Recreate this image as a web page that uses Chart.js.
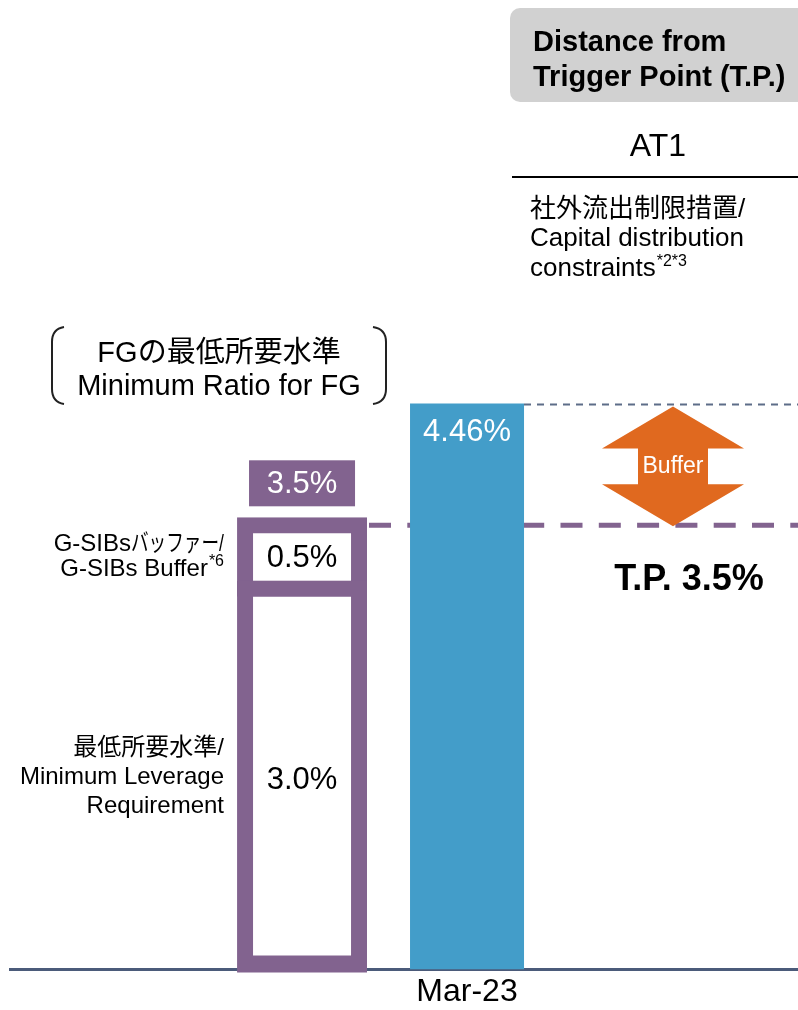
<!DOCTYPE html>
<html><head><meta charset="utf-8">
<script src="https://cdn.jsdelivr.net/npm/chart.js@4"></script>
<style>html,body{margin:0;padding:0;background:#fff}#wrap{width:798px;height:1010px}</style>
</head><body><div id="wrap"><canvas id="c" width="798" height="1010"></canvas></div>
<script>
// ---- data ----
const categories = ['Minimum Ratio for FG', 'Mar-23'];
const xPositions = [0, 1];
const tickLabels = ['Mar-23'];
const minLeverage = [3.0];   // 最低所要水準 / Minimum Leverage Requirement
const gsibBuffer = [0.5];    // G-SIBsバッファー / G-SIBs Buffer
const at1Ratio = [4.46];     // AT1 leverage ratio, Mar-23
const triggerPoint = [3.5];  // T.P.

const FONT = '"Liberation Sans", Arial, "Noto Sans CJK JP", sans-serif';
const PURPLE = '#82638f';
const BLUE = '#439dc9';
const ORANGE = '#e0691f';

function fmt(v, d) { return v.toFixed(d) + '%'; }
function txt(ctx, s, x, y, size, o = {}) {
  ctx.save();
  ctx.font = (o.bold ? 'bold ' : '') + size + 'px ' + FONT;
  ctx.fillStyle = o.color || '#000';
  ctx.textAlign = o.align || 'left';
  ctx.textBaseline = o.baseline || 'alphabetic';
  let w = ctx.measureText(s).width;
  if (o.fitW && w > o.fitW) {
    const k = o.fitW / w;
    ctx.translate(x, y); ctx.scale(k, 1); ctx.fillText(s, 0, 0);
    w = o.fitW;
  } else {
    ctx.fillText(s, x, y);
  }
  ctx.restore();
  return w;
}
function measure(ctx, s, size, bold) {
  ctx.font = (bold ? 'bold ' : '') + size + 'px ' + FONT;
  return ctx.measureText(s).width;
}

const deco = {
  id: 'deco',
  beforeDatasetsDraw(chart) {
    const ctx = chart.ctx, y = chart.scales.y;
    ctx.save();
    const yt = y.getPixelForValue(triggerPoint[0]);
    ctx.strokeStyle = PURPLE; ctx.lineWidth = 5; ctx.setLineDash([22, 16.3]);
    ctx.beginPath(); ctx.moveTo(369, yt); ctx.lineTo(798, yt); ctx.stroke();
    const ya = y.getPixelForValue(at1Ratio[0]);
    ctx.strokeStyle = '#5d6d88'; ctx.lineWidth = 2; ctx.setLineDash([7, 6]);
    ctx.beginPath(); ctx.moveTo(524, ya + 1); ctx.lineTo(798, ya + 1); ctx.stroke();
    ctx.restore();
  },
  afterDatasetsDraw(chart) {
    const ctx = chart.ctx, y = chart.scales.y;
    ctx.save();
    // header box
    ctx.fillStyle = '#d1d1d1';
    ctx.beginPath(); ctx.roundRect(510, 8, 310, 94, 10); ctx.fill();
    txt(ctx, 'Distance from', 533, 51, 29, {bold: true});
    txt(ctx, 'Trigger Point (T.P.)', 533, 86, 29, {bold: true});
    txt(ctx, 'AT1', 658, 156, 32, {align: 'center'});
    ctx.fillStyle = '#000'; ctx.fillRect(512, 176, 290, 2);
    txt(ctx, '社外流出制限措置/', 530, 217, 26);
    txt(ctx, 'Capital distribution', 530, 246, 26);
    const wc = txt(ctx, 'constraints', 530, 276, 26);
    txt(ctx, '*2*3', 530 + wc + 1, 266, 16);

    // bracket title
    txt(ctx, 'FGの最低所要水準', 219, 362, 29, {align: 'center'});
    txt(ctx, 'Minimum Ratio for FG', 219, 395, 29, {align: 'center'});
    ctx.strokeStyle = '#222'; ctx.lineWidth = 2;
    ctx.beginPath(); ctx.moveTo(64, 327); ctx.quadraticCurveTo(52, 329, 52, 342);
    ctx.lineTo(52, 389); ctx.quadraticCurveTo(52, 402, 64, 404); ctx.stroke();
    ctx.beginPath(); ctx.moveTo(373, 327); ctx.quadraticCurveTo(386, 329, 386, 342);
    ctx.lineTo(386, 389); ctx.quadraticCurveTo(386, 402, 373, 404); ctx.stroke();

    // left labels
    const R = 224;
    const kana = 'バッファー/';
    const wk = Math.min(measure(ctx, kana, 24), 93);
    txt(ctx, kana, R - wk, 551, 24, {fitW: 93});
    txt(ctx, 'G-SIBs', R - wk, 551, 24, {align: 'right'});
    const ws = measure(ctx, '*6', 16);
    txt(ctx, 'G-SIBs Buffer', R - ws - 1, 576, 24, {align: 'right'});
    txt(ctx, '*6', R - ws, 566, 16);
    txt(ctx, '最低所要水準/', R, 755, 24, {align: 'right'});
    txt(ctx, 'Minimum Leverage', R, 784, 24, {align: 'right'});
    txt(ctx, 'Requirement', R, 813, 24, {align: 'right'});

    // value labels from bar elements
    const mMin = chart.getDatasetMeta(0).data[0];
    const mBuf = chart.getDatasetMeta(1).data[0];
    const mAt1 = chart.getDatasetMeta(2).data[0];
    txt(ctx, fmt(minLeverage[0], 1), mMin.x, (mMin.y + mMin.base) / 2 + 1, 31, {align: 'center', baseline: 'middle'});
    txt(ctx, fmt(gsibBuffer[0], 1), mBuf.x, (mBuf.y + mBuf.base) / 2 + 1, 31, {align: 'center', baseline: 'middle'});
    txt(ctx, fmt(at1Ratio[0], 2), mAt1.x, mAt1.y + 29, 31, {align: 'center', baseline: 'middle', color: '#fff'});
    // total box
    const total = minLeverage[0] + gsibBuffer[0];
    const ytop = y.getPixelForValue(total);
    ctx.fillStyle = PURPLE;
    ctx.fillRect(mBuf.x - 53, ytop - 65, 106, 46);
    txt(ctx, fmt(total, 1), mBuf.x, ytop - 41, 31, {align: 'center', baseline: 'middle', color: '#fff'});

    // buffer arrow
    const cx = 673, top = y.getPixelForValue(at1Ratio[0]) + 3, bot = y.getPixelForValue(triggerPoint[0]) + 1;
    const hw = 71, sw = 35, hh = 42;
    ctx.fillStyle = ORANGE;
    ctx.beginPath();
    ctx.moveTo(cx, top); ctx.lineTo(cx + hw, top + hh); ctx.lineTo(cx + sw, top + hh);
    ctx.lineTo(cx + sw, bot - hh); ctx.lineTo(cx + hw, bot - hh); ctx.lineTo(cx, bot);
    ctx.lineTo(cx - hw, bot - hh); ctx.lineTo(cx - sw, bot - hh); ctx.lineTo(cx - sw, top + hh);
    ctx.lineTo(cx - hw, top + hh); ctx.closePath(); ctx.fill();
    txt(ctx, 'Buffer', cx, (top + bot) / 2, 23, {align: 'center', baseline: 'middle', color: '#fff'});

    txt(ctx, 'T.P. ' + fmt(triggerPoint[0], 1), 689, 590, 36, {bold: true, align: 'center'});
    ctx.restore();
  }
};

new Chart(document.getElementById('c'), {
  type: 'bar',
  data: {
    datasets: [
      { label: '最低所要水準', data: [{x: xPositions[0], y: minLeverage[0]}], stack: 'fg',
        backgroundColor: '#fff', borderColor: PURPLE, borderWidth: {top: 16, left: 16, right: 16, bottom: 22},
        borderSkipped: false, inflateAmount: 8, clip: {left: false, top: false, right: false, bottom: 3} },
      { label: 'G-SIBsバッファー', data: [{x: xPositions[0], y: gsibBuffer[0]}], stack: 'fg',
        backgroundColor: '#fff', borderColor: PURPLE, borderWidth: 16, borderSkipped: false, inflateAmount: 8, clip: false },
      { label: 'AT1', data: [{x: xPositions[1], y: at1Ratio[0]}], stack: 'at1',
        backgroundColor: BLUE, borderWidth: 0, inflateAmount: 0 }
    ]
  },
  options: {
    responsive: false, animation: false, devicePixelRatio: 1,
    grouped: false, maxBarThickness: 114,
    layout: { padding: { left: 10, right: 0, top: 81, bottom: -4 } },
    plugins: { legend: { display: false }, tooltip: { enabled: false } },
    scales: {
      x: { type: 'linear', min: -1.77, max: 3.006, offset: false,
        grid: { display: false, drawTicks: false },
        border: { display: true, color: '#4b5b7a', width: 3 },
        afterBuildTicks: s => { s.ticks = [{ value: xPositions[1] }]; },
        ticks: { callback: v => v === xPositions[1] ? tickLabels[0] : '', font: { family: FONT, size: 32 }, color: '#000', padding: 3, maxRotation: 0, autoSkip: false }
      },
      y: { display: false, stacked: true, min: 0, max: 7 }
    }
  },
  plugins: [deco]
});
</script></body></html>
